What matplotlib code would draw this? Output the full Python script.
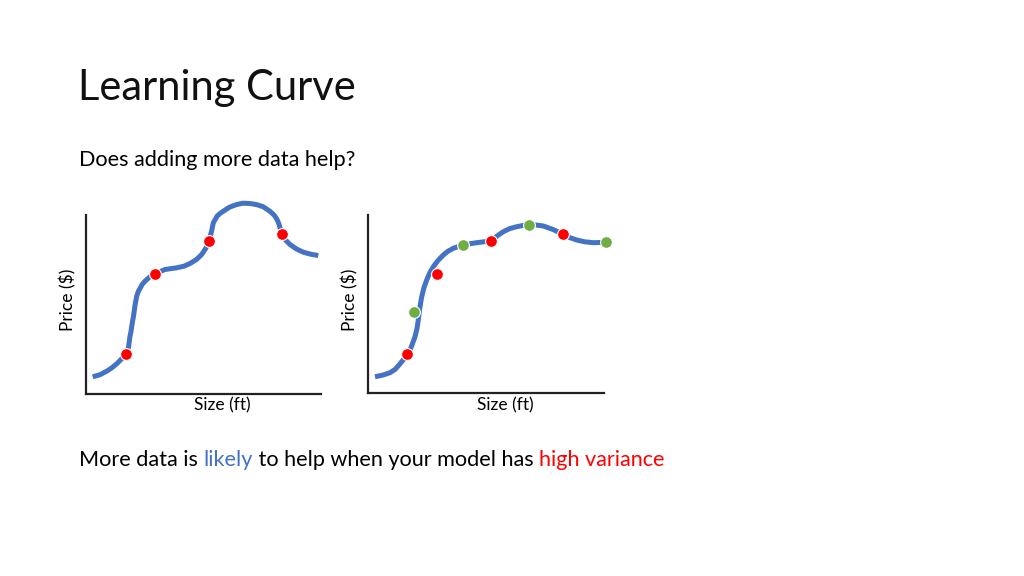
import matplotlib
matplotlib.use('Agg')
import matplotlib.pyplot as plt

plt.rcParams['font.family'] = ['Lato', 'DejaVu Sans']

# left panel: curve through the data (size offset, price)
left_x = [6.7, 14, 20.7, 26, 31, 36, 40, 42.5, 44, 45, 45.7, 46.5, 47.5, 49, 50.7, 52.5, 54.5, 56.5,
          59, 64, 69, 79, 90.7, 98, 104, 110.5, 115.7, 120, 123, 125.5, 127.3, 129.5, 131, 134,
          137.3, 143.5, 150.7, 157, 164, 171, 177.3, 183.5, 187, 189, 191, 192.8, 195.7, 199.5,
          204, 210.5, 217.3, 225, 232.3]
left_y = [16.7, 18.8, 22.3, 25.8, 30, 35, 39.7, 46, 57.3, 62, 67, 72, 77.3, 88, 97.3, 102.5, 106, 109.5,
          112.3, 116.8, 119.7, 124, 125.7, 127.3, 130, 134, 139, 145.5, 153, 162, 170.7, 174.5, 177.3, 180,
          182.3, 186.3, 189, 190.3, 190, 188.8, 186.7, 182.5, 179.5, 177.3, 174, 170, 159.7, 153.5,
          149, 144.5, 141.3, 139.2, 138]
left_red_x = [40, 69, 123, 195.7]
left_red_y = [39.7, 119.7, 153, 159.7]

# right panel
right_x = [7, 14.5, 22, 27, 31, 35.5, 39.3, 42, 44, 47, 49, 50.3, 51.8, 53.7, 56, 58.7, 61.7, 65.3, 70,
           75.3, 80, 85.3, 94.7, 101.5, 108.7, 116, 123.3, 129, 135.3, 141.5, 148.7, 155, 161, 168,
           175.3, 185, 195.3, 201.5, 208.7, 216.5, 225.3, 238]
right_y = [16.3, 17.8, 20.3, 23.5, 28, 33.5, 39, 43, 48, 56.3, 64.5, 73, 85, 96.3, 105.5, 113, 120, 126.3,
           132.5, 138, 141.8, 144.7, 148, 149.2, 150.3, 151.2, 152.3, 157, 161.3, 164.3, 166.3, 167.5, 168,
           168, 167, 163.5, 158.7, 155.5, 153, 151.2, 150.3, 150.7]
right_red_x = [39.3, 68.7, 123.3, 195.3]
right_red_y = [39, 119, 152.3, 158.7]
right_green_x = [46.3, 94.7, 161, 238]
right_green_y = [81.3, 148, 168, 150.7]

W, H = 1024, 576
blue = '#4472C4'
red = '#FF0000'
green = '#70AD47'

fig = plt.figure(figsize=(10.24, 5.76), dpi=100)
fig.patch.set_facecolor('white')


def panel(x0, y0, w, top):
    # axes box in pixels: origin (x0, y0), width w, spine height top
    ax = fig.add_axes([x0 / W, 1 - y0 / H, w / W, 195 / H])
    ax.set_xlim(0, w)
    ax.set_ylim(0, 195)
    for s in ['top', 'right']:
        ax.spines[s].set_visible(False)
    for s in ['left', 'bottom']:
        ax.spines[s].set_linewidth(1.6)
        ax.spines[s].set_color('#222222')
    ax.spines['left'].set_bounds(0, top)
    ax.set_xticks([])
    ax.set_yticks([])
    ax.patch.set_alpha(0)
    return ax


line_kw = dict(color=blue, lw=3.6, solid_capstyle='butt', solid_joinstyle='round', clip_on=False, zorder=2)
dot_kw = dict(ms=8.5, mec='white', mew=0.8, clip_on=False, zorder=3)

ax1 = panel(86, 393.5, 235, 179)
ax1.plot(left_x, left_y, **line_kw)
ax1.plot(left_red_x, left_red_y, 'o', color=red, **dot_kw)

ax2 = panel(368, 393, 236, 178)
ax2.plot(right_x, right_y, **line_kw)
ax2.plot(right_red_x, right_red_y, 'o', color=red, **dot_kw)
ax2.plot(right_green_x, right_green_y, 'o', color=green, **dot_kw)


def px(x, y):
    return x / W, 1 - y / H


fig.text(*px(68, 300), 'Price ($)', rotation=90, ha='center', va='center', fontsize=12.5)
fig.text(*px(222, 405), 'Size (ft)', ha='center', va='center', fontsize=12.5)
fig.text(*px(350, 300), 'Price ($)', rotation=90, ha='center', va='center', fontsize=12.5)
fig.text(*px(505, 405), 'Size (ft)', ha='center', va='center', fontsize=12.5)

fig.text(*px(78, 100), 'Learning Curve', ha='left', va='baseline', fontsize=30, color='#111111')
fig.text(*px(79, 166), 'Does adding more data help?', ha='left', va='baseline', fontsize=15.6)

fs = 15.6
t1 = fig.text(*px(79, 466), 'More data is ', ha='left', va='baseline', fontsize=fs)
t2 = plt.annotate('likely', xy=(1, 0), xycoords=t1, ha='left', va='bottom', fontsize=fs, color=blue)
t3 = plt.annotate(' to help when your model has ', xy=(1, 0), xycoords=t2, ha='left', va='bottom', fontsize=fs)
t4 = plt.annotate('high variance', xy=(1, 0), xycoords=t3, ha='left', va='bottom', fontsize=fs, color=red)

fig.savefig('out.png', dpi=100)
